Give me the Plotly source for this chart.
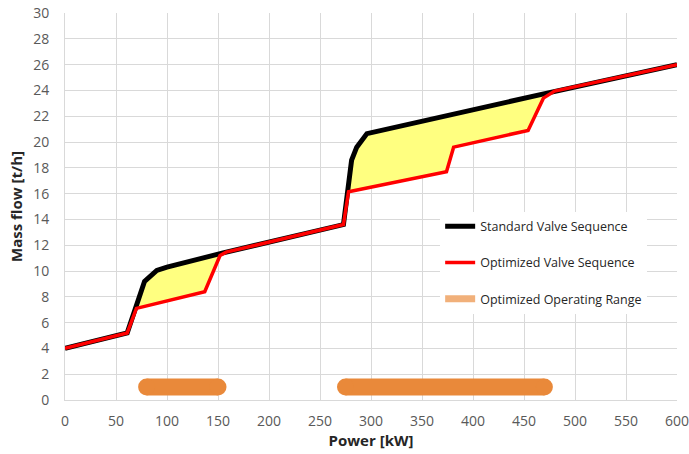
import numpy as np
import plotly.graph_objects as go

# ---- data ----
std_x = [0, 61, 78, 90, 100, 155, 273, 281, 286, 296, 476, 600]
std_y = [4, 5.2, 9.2, 10.05, 10.3, 11.4, 13.6, 18.6, 19.6, 20.65, 23.85, 26]

opt_x = [0, 61, 70, 137, 152, 158, 273, 278, 374, 381, 454, 469, 480, 600]
opt_y = [4, 5.2, 7.1, 8.4, 11.2, 11.46, 13.6, 16.15, 17.7, 19.6, 20.9, 23.4, 23.95, 26]

gain_start = [71, 277]
gain_end = [152, 470]

range_start = [80, 275]
range_end = [150, 470]
range_level = 1

x_ticks = list(range(0, 601, 50))
y_ticks = list(range(0, 31, 2))

FONT = "Open Sans"
GRID = "#D9D9D9"
TXT = "#595959"


def band(x0, x1):
    xt = [x0] + [x for x in std_x if x0 < x < x1] + [x1]
    yt = list(np.interp(xt, std_x, std_y))
    xb = [x0] + [x for x in opt_x if x0 < x < x1] + [x1]
    yb = list(np.interp(xb, opt_x, opt_y))
    return xt + xb[::-1] + [xt[0]], yt + yb[::-1] + [yt[0]]


fig = go.Figure()

for a, b in zip(gain_start, gain_end):
    bx, by = band(a, b)
    fig.add_trace(go.Scatter(x=bx, y=by, mode="lines", fill="toself",
                             fillcolor="#FFFF80", line=dict(color="#FFFF00", width=2),
                             showlegend=False, hoverinfo="skip"))

for a, b in zip(range_start, range_end):
    fig.add_trace(go.Scatter(x=[a, b], y=[range_level, range_level], mode="lines+markers",
                             line=dict(color="rgb(233,137,58)", width=17),
                             marker=dict(color="rgb(233,137,58)", size=17),
                             showlegend=False, hoverinfo="skip"))

fig.add_trace(go.Scatter(x=std_x, y=std_y, mode="lines", name="Standard Valve Sequence",
                         line=dict(color="black", width=5), legendgroup="a"))
fig.add_trace(go.Scatter(x=opt_x, y=opt_y, mode="lines", name="Optimized Valve Sequence",
                         line=dict(color="#FF0000", width=3.5), legendgroup="b"))
fig.add_trace(go.Scatter(x=[None], y=[None], mode="lines", name="Optimized Operating Range",
                         line=dict(color="rgb(241,176,122)", width=7), legendgroup="c"))

fig.update_layout(
    width=689, height=454,
    margin=dict(l=65, r=12, t=13, b=54),
    paper_bgcolor="white", plot_bgcolor="white",
    font=dict(family=FONT, color=TXT, size=14),
    legend=dict(x=0.613, y=0.487, xanchor="left", yanchor="top",
                bgcolor="white", font=dict(family=FONT, size=12.5, color="#262626"),
                tracegroupgap=17, traceorder="grouped"),
    xaxis=dict(range=[0, 600], tickvals=x_ticks, showgrid=True, gridcolor=GRID,
               gridwidth=1, zeroline=False, showline=True, linecolor=GRID, mirror=False,
               ticks="", tickfont=dict(size=14, color=TXT), automargin=False,
               ticklabeloverflow="allow", ticklabelstandoff=8,
               title=dict(text="<b>Power [kW]</b>", font=dict(size=15, color="#262626"),
                          standoff=6)),
    yaxis=dict(range=[0, 30], tickvals=y_ticks, showgrid=True, gridcolor=GRID,
               gridwidth=1, zeroline=False, showline=True, linecolor=GRID,
               ticks="", tickfont=dict(size=14, color=TXT), automargin=False,
               ticklabeloverflow="allow", ticklabelstandoff=12,
               title=dict(text="<b>Mass flow [t/h]</b>", font=dict(size=15, color="#262626"),
                          standoff=6)),
)

fig.write_html("out.html", config={"displayModeBar": False},
               post_script="document.body.style.margin='0';")
